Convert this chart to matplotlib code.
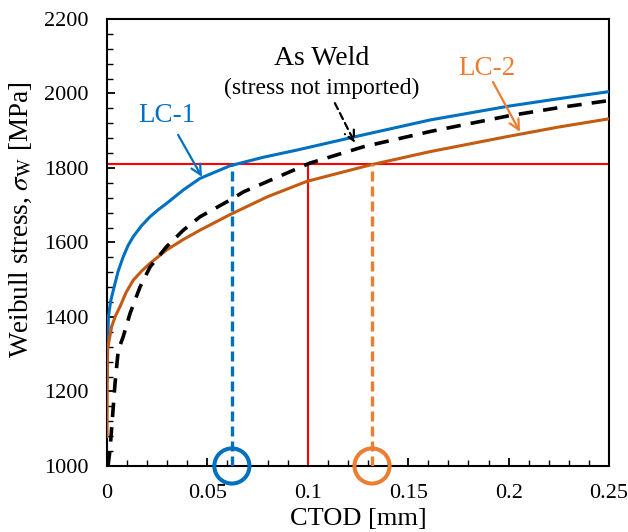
import matplotlib
matplotlib.use("Agg")
import matplotlib.pyplot as plt

plt.rcParams['font.family'] = ['Liberation Serif', 'DejaVu Serif']
plt.rcParams['mathtext.fontset'] = 'stix'

# LC-1 (blue)
lc1_ctod = [0.0, 0.0007, 0.0018, 0.0032, 0.0055, 0.0081, 0.0105, 0.0131, 0.0172, 0.0214,
            0.0255, 0.0297, 0.038, 0.0463, 0.0613, 0.078, 0.0945, 0.1277, 0.161, 0.2,
            0.225, 0.25]
lc1_sigma = [1230, 1401, 1442, 1473, 1522, 1562, 1592, 1616, 1645, 1669,
             1688, 1705, 1741, 1772, 1806, 1829, 1848, 1889, 1929, 1966,
             1986, 2005]

# LC-2 (orange)
lc2_ctod = [0.0, 0.0002, 0.0023, 0.0042, 0.0065, 0.0095, 0.0131, 0.0172, 0.0214, 0.0297,
            0.038, 0.0463, 0.0613, 0.08, 0.0995, 0.131, 0.161, 0.2, 0.225, 0.25]
lc2_sigma = [1079, 1311, 1374, 1403, 1428, 1466, 1499, 1523, 1544, 1580,
             1608, 1633, 1675, 1723, 1764, 1808, 1844, 1885, 1910, 1932]

# As Weld, stress not imported (black dashed)
aw_ctod = [0.0005, 0.0015, 0.004, 0.0056, 0.008, 0.0115, 0.0164, 0.0214, 0.0297,
           0.038, 0.0463, 0.0613, 0.068, 0.101, 0.1277, 0.161, 0.2, 0.225, 0.25]
aw_sigma = [1000, 1043, 1222, 1311, 1346, 1410, 1480, 1534, 1589,
            1633, 1669, 1714, 1736, 1813, 1857, 1898, 1940, 1962, 1981]

sigma_crit = 1810
ctod_as_weld = 0.1
ctod_lc1 = 0.0622
ctod_lc2 = 0.132

blue = '#0070C0'
orange_line = '#C55A11'
orange = '#ED7D31'

fig = plt.figure(figsize=(6.28, 5.32), dpi=100)
ax = fig.add_axes([0.1704, 0.1241, 0.7993, 0.8402])

ax.plot([0, 0.25], [sigma_crit, sigma_crit], color='#FF0000', lw=1.5, zorder=2)
ax.plot([ctod_as_weld, ctod_as_weld], [1000, sigma_crit], color='#FF0000', lw=1.5, zorder=2)

ax.plot(lc1_ctod, lc1_sigma, color=blue, lw=2.2, zorder=3)
ax.plot(lc2_ctod, lc2_sigma, color=orange_line, lw=2.2, zorder=3)
ax.plot(aw_ctod, aw_sigma, color='black', lw=2.6, dashes=(4, 2.8), zorder=4)

ax.plot([ctod_lc1, ctod_lc1], [1000, sigma_crit], color=blue, lw=2.4, dashes=(3, 1.5), zorder=3)
ax.plot([ctod_lc2, ctod_lc2], [1000, sigma_crit], color=orange, lw=2.4, dashes=(3, 1.5), zorder=3)

ax.scatter([ctod_lc1], [1000], s=640, facecolors='none', edgecolors=blue,
           linewidths=2.9, clip_on=False, zorder=5)
ax.scatter([ctod_lc2], [1000], s=640, facecolors='none', edgecolors=orange,
           linewidths=2.9, clip_on=False, zorder=5)

arrow_kw = dict(arrowstyle='->', lw=1.6, shrinkA=0, shrinkB=0, mutation_scale=18)
ax.text(0.0299, 1942, 'LC-1', color=blue, fontsize=19.5, ha='center', va='center')
ax.annotate('', xy=(0.0473, 1776), xytext=(0.0354, 1889),
            arrowprops=dict(color=blue, **arrow_kw))
ax.text(0.1891, 2067, 'LC-2', color=orange, fontsize=19.5, ha='center', va='center')
ax.annotate('', xy=(0.2057, 1897), xytext=(0.1922, 2031),
            arrowprops=dict(color=orange, **arrow_kw))
ax.text(0.1069, 2094, 'As Weld', fontsize=20, ha='center', va='center')
ax.text(0.1069, 2014, '(stress not imported)', fontsize=17, ha='center', va='center')
ax.annotate('', xy=(0.1235, 1867), xytext=(0.1135, 1974),
            arrowprops=dict(color='black', ls=(0, (3, 2)), **arrow_kw))

ax.set_xlim(0, 0.25)
ax.set_ylim(1000, 2200)
ax.set_xticks([0, 0.05, 0.1, 0.15, 0.2, 0.25])
ax.set_xticklabels(['0', '0.05', '0.1', '0.15', '0.2', '0.25'])
ax.set_yticks(range(1000, 2201, 200))
ax.set_xticks([i * 0.01 for i in range(26)], minor=True)
ax.set_yticks(range(1000, 2201, 40), minor=True)
ax.tick_params(which='both', direction='in', labelsize=16, top=False, right=False)
ax.tick_params(axis='x', which='major', pad=13)
ax.tick_params(axis='y', which='major', pad=13)
ax.tick_params(which='major', length=6, width=1.3)
ax.tick_params(which='minor', length=4, width=1.0)
for s in ax.spines.values():
    s.set_linewidth(1.5)

ax.set_xlabel('CTOD [mm]', fontsize=19)
ax.set_ylabel(r'Weibull stress, $\sigma_{\rm W}$ [MPa]', fontsize=19.5)
ax.xaxis.set_label_coords(0.5, -0.095)
ax.yaxis.set_label_coords(-0.145, 0.55)

fig.savefig('out.png', dpi=100)
